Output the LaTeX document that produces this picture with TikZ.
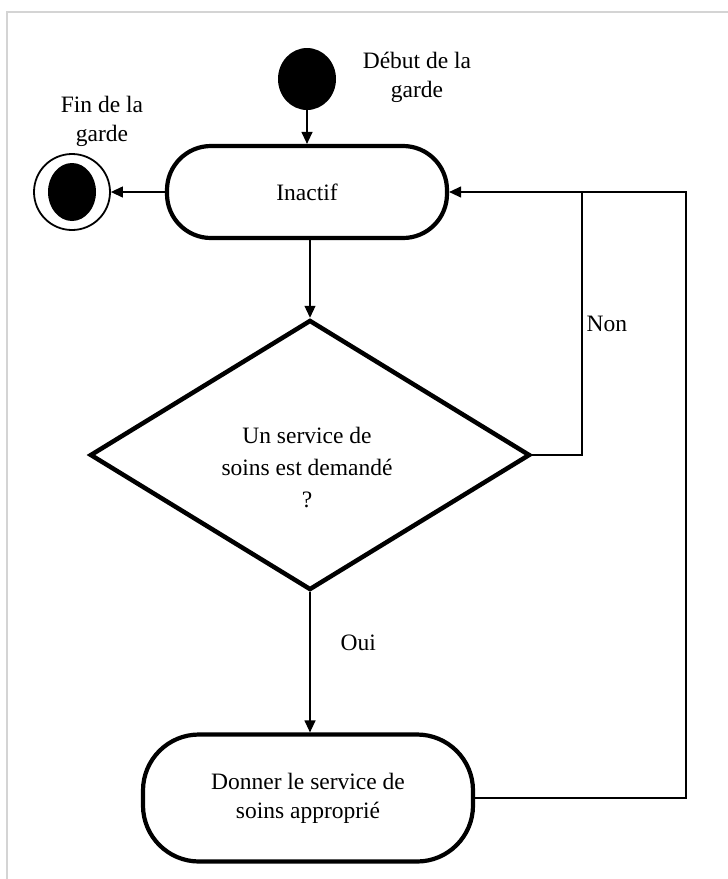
\documentclass[tikz,border=0pt]{standalone}
\usepackage{fontspec}
\setmainfont{Liberation Serif}
\usetikzlibrary{shapes.geometric,arrows.meta}
\begin{document}
\begin{tikzpicture}[x=1pt,y=-1pt,
  every node/.style={font=\fontsize{23.5}{29}\selectfont, inner sep=0pt},
  statebox/.style={draw, line width=4.2pt, rounded corners=44pt, align=center},
  decision/.style={draw, line width=4.5pt, diamond, align=center},
  conn/.style={line width=1.2pt, -{Triangle[length=12pt,width=11pt]}},
  plainconn/.style={line width=1.2pt},
  lbl/.style={align=center}]
\useasboundingbox (0,0) rectangle (728,879);
\draw[line width=2pt, color=black!17] (7,879) -- (7,12) -- (728,12);

\node[ellipse, fill=black, minimum width=58pt, minimum height=62pt] (start) at (307,79) {};
\node[lbl] (debut) at (417,77) {Début de la\\garde};

\node[statebox, minimum width=280pt, minimum height=92pt] (inactif) at (307,192) {Inactif};

\node[circle, draw, line width=1.8pt, minimum size=76pt] (fin) at (72,192) {};
\node[ellipse, fill=black, minimum width=48pt, minimum height=58pt] (fininner) at (fin.center) {};
\node[lbl] (finlbl) at (102,121) {Fin de la\\garde};

\node[decision, minimum width=440pt, minimum height=270pt, aspect=1.63] (dec) at (310,455) {};
\node[lbl, font=\fontsize{23.5}{32}\selectfont] (dectext) at (307,468) {Un service de\\soins est demandé\\?};

\node[statebox, rounded corners=56pt, minimum width=330pt, minimum height=127pt] (donner) at (308,798) {Donner le service de\\soins approprié};

\coordinate (nonjoin) at (582,192);
\coordinate (loopcorner) at (686,192);

\draw[conn] (start) -- (inactif);
\draw[conn] (inactif.west) -- (fin.east);
\draw[conn] (inactif.south -| dec.north) -- (dec.north);
\draw[conn] (dec.south) -- (dec.south |- donner.north) node[pos=0.36, right=30pt] (oui) {Oui};
\draw[plainconn] (dec.east) -| (nonjoin) node[pos=0.75, right=4pt] (non) {Non};
\draw[conn] (donner.east) -| (loopcorner) -- (inactif.east);
\end{tikzpicture}
\end{document}
